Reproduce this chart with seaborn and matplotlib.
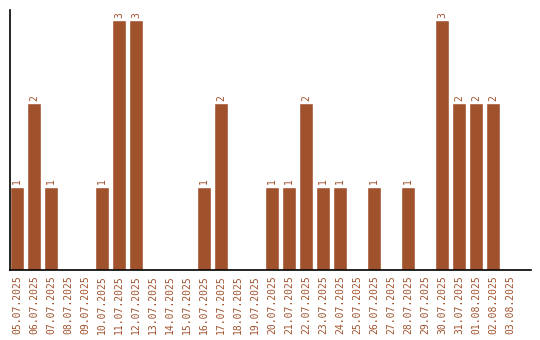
import matplotlib
matplotlib.use("Agg")
import matplotlib.pyplot as plt
import seaborn as sns
import pandas as pd

dates = ["05.07.2025", "06.07.2025", "07.07.2025", "08.07.2025", "09.07.2025",
         "10.07.2025", "11.07.2025", "12.07.2025", "13.07.2025", "14.07.2025",
         "15.07.2025", "16.07.2025", "17.07.2025", "18.07.2025", "19.07.2025",
         "20.07.2025", "21.07.2025", "22.07.2025", "23.07.2025", "24.07.2025",
         "25.07.2025", "26.07.2025", "27.07.2025", "28.07.2025", "29.07.2025",
         "30.07.2025", "31.07.2025", "01.08.2025", "02.08.2025", "03.08.2025"]
counts = [1, 2, 1, 0, 0, 1, 3, 3, 0, 0, 0, 1, 2, 0, 0, 1, 1, 2, 1, 1, 0, 1, 0, 1, 0, 3, 2, 2, 2, 0]

sns.set_style("white")
plt.rcParams['font.family'] = ['DejaVu Sans Mono']

color = "#A0522D"
df = pd.DataFrame({"date": dates, "count": counts})

fig = plt.figure(figsize=(5.4, 3.4), dpi=100)
ax = fig.add_axes([10/540, 70/340, 521/540, 260/340])
sns.barplot(data=df, x="date", y="count", color=color, saturation=1, width=0.82, ax=ax)

for i, v in enumerate(counts):
    if v > 0:
        ax.text(i, v + 0.03, str(v), rotation=90, ha="center", va="bottom",
                fontsize=7, color=color)

ax.set_xlim(-0.41, 30.24)
ax.set_ylim(0, 3.12)
ax.set_xlabel("")
ax.set_ylabel("")
ax.set_yticks([])
ax.tick_params(axis="x", length=0, pad=4, labelsize=7, labelcolor=color)
for lbl in ax.get_xticklabels():
    lbl.set_rotation(90)
for s in ["top", "right"]:
    ax.spines[s].set_visible(False)
for s in ["left", "bottom"]:
    ax.spines[s].set_color("black")
    ax.spines[s].set_linewidth(1.2)

fig.savefig("out.png", dpi=100)
